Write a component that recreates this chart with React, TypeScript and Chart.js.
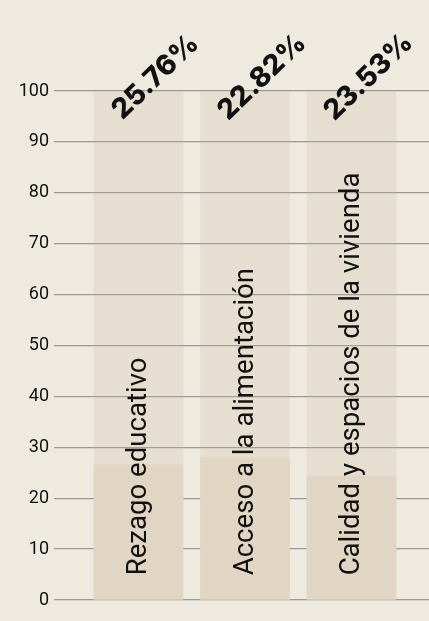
import React, { useEffect, useRef } from "react";
import { Chart, registerables } from "chart.js";

Chart.register(...registerables);

const categories = ["Rezago educativo", "Acceso a la alimentación", "Calidad y espacios de la vivienda"];
const positions = [1, 2, 3];
const filledValues = [26.6, 28.0, 24.4];
const totalValues = [100, 100, 100];
const percentLabels = ["25.76%", "22.82%", "23.53%"];
const yTicks = [0, 10, 20, 30, 40, 50, 60, 70, 80, 90, 100];

const BG = "#eeeae0";

const labelPlugin = {
  id: "labels",
  afterDatasetsDraw(chart: any) {
    const ctx = chart.ctx;
    const totalMeta = chart.getDatasetMeta(1);
    const filledMeta = chart.getDatasetMeta(0);
    ctx.save();
    totalMeta.data.forEach((bar: any, i: number) => {
      ctx.save();
      ctx.translate(bar.x + 17, bar.y - 14);
      ctx.rotate((-44 * Math.PI) / 180);
      ctx.font = "800 28px Inter";
      ctx.fillStyle = "#111111";
      ctx.textAlign = "center";
      ctx.textBaseline = "middle";
      ctx.fillText(percentLabels[i], 0, 0);
      ctx.restore();
    });
    filledMeta.data.forEach((bar: any, i: number) => {
      ctx.save();
      ctx.translate(bar.x + 1, bar.base - 24);
      ctx.rotate(-Math.PI / 2);
      ctx.font = "400 27.6px Roboto";
      ctx.fillStyle = "#111111";
      ctx.textAlign = "left";
      ctx.textBaseline = "middle";
      ctx.fillText(categories[i], 0, 0);
      ctx.restore();
    });
    ctx.restore();
  },
};

export default function App() {
  const ref = useRef<HTMLCanvasElement>(null);
  useEffect(() => {
    document.body.style.margin = "0";
    document.body.style.background = BG;
    const chart = new Chart(ref.current!, {
      type: "bar",
      data: {
        datasets: [
          {
            label: "filled",
            data: positions.map((x, i) => ({ x, y: filledValues[i] })),
            backgroundColor: "#e0d6c3",
            barThickness: 89,
            grouped: false,
          } as any,
          {
            label: "total",
            data: positions.map((x, i) => ({ x, y: totalValues[i] })),
            backgroundColor: "rgba(200,180,150,0.2)",
            barThickness: 89,
            grouped: false,
          } as any,
        ],
      },
      options: {
        animation: false,
        responsive: false,
        maintainAspectRatio: false,
        layout: { padding: { top: 91, bottom: 21, left: 0, right: 0 } },
        plugins: { legend: { display: false }, tooltip: { enabled: false }, title: { display: false } },
        scales: {
          x: {
            type: "linear",
            display: false,
            offset: false,
            min: 0.2066,
            max: 3.728,
          },
          y: {
            min: 0,
            max: 100,
            afterFit(scale: any) {
              scale.width = 54;
            },
            afterBuildTicks(scale: any) {
              scale.ticks = yTicks.map((v) => ({ value: v }));
            },
            border: { display: false },
            grid: { color: "#999999", lineWidth: 1.3, drawTicks: false },
            ticks: {
              padding: 5,
              color: "#111111",
              font: { family: "Roboto", size: 18 },
            },
          },
        },
      },
      plugins: [labelPlugin],
    });
    return () => chart.destroy();
  }, []);
  return (
    <div style={{ width: 429, height: 621, background: BG, overflow: "hidden" }}>
      <canvas ref={ref} width={429} height={621} style={{ display: "block" }} />
    </div>
  );
}
